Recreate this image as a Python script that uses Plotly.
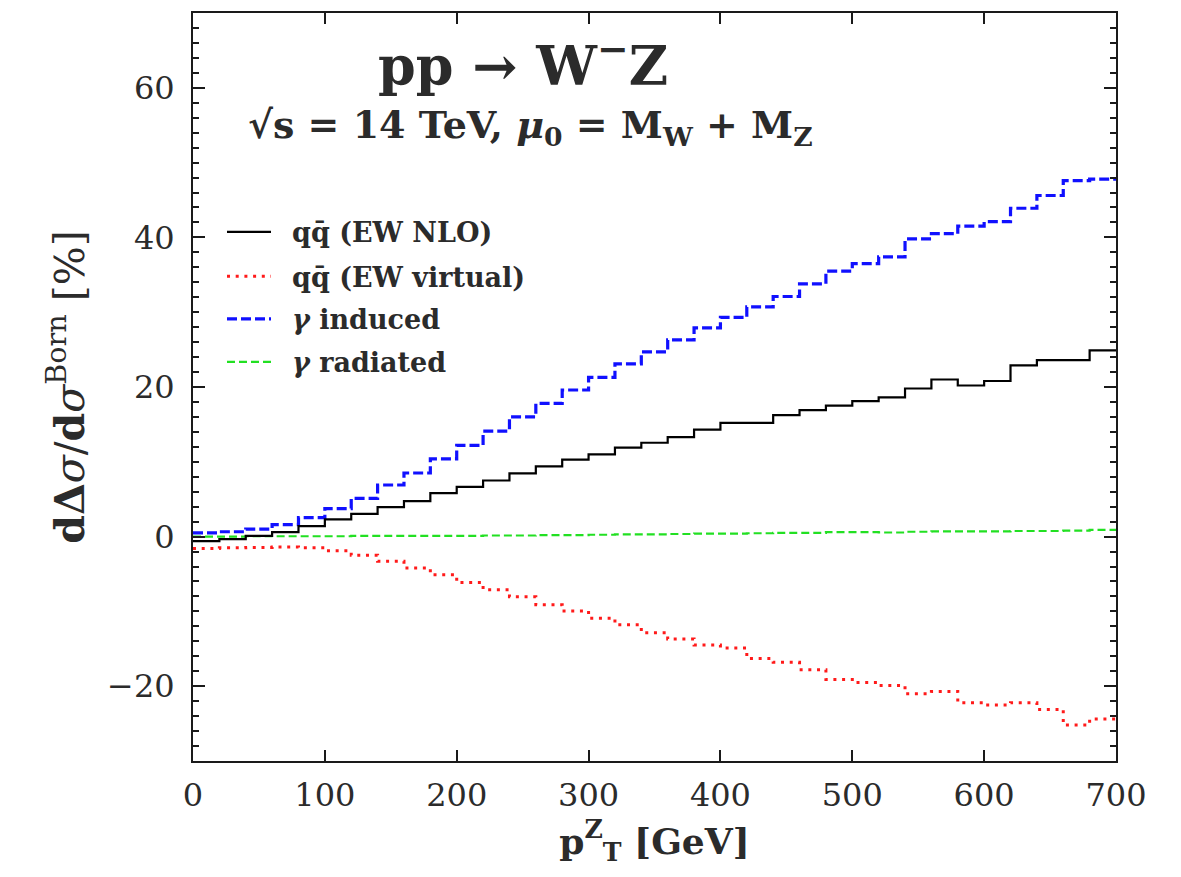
import plotly.graph_objects as go

# bin edges of pT^Z [GeV]
pt_edges = [0, 20, 40, 60, 80, 100, 120, 140, 160, 180, 200, 220, 240, 260, 280, 300,
            320, 340, 360, 380, 400, 420, 440, 460, 480, 500, 520, 540, 560, 580, 600,
            620, 640, 660, 680, 700]

# relative corrections per bin [%]
ew_nlo = [-0.6, -0.35, 0.1, 0.6, 1.4, 2.3, 3.05, 3.95, 4.75, 5.8, 6.65, 7.5, 8.45, 9.4,
          10.3, 11.0, 11.9, 12.55, 13.3, 14.3, 15.2, 15.2, 16.25, 16.9, 17.5, 18.1, 18.6,
          19.8, 21.0, 20.2, 20.8, 22.9, 23.6, 23.6, 24.9]
ew_virtual = [-1.6, -1.5, -1.45, -1.4, -1.5, -1.9, -2.5, -3.3, -4.2, -5.1, -6.15, -7.1,
              -8.05, -9.1, -9.95, -10.9, -11.8, -12.85, -13.7, -14.5, -14.9, -16.3, -16.8,
              -17.8, -19.1, -19.5, -19.9, -21.0, -20.7, -22.2, -22.5, -22.2, -23.1, -25.2,
              -24.4]
gamma_induced = [0.5, 0.65, 1.0, 1.6, 2.55, 3.75, 5.1, 6.9, 8.5, 10.4, 12.2, 14.1, 16.0,
                 17.8, 19.6, 21.3, 23.1, 24.7, 26.3, 27.9, 29.3, 30.7, 32.1, 33.8, 35.5,
                 36.5, 37.4, 39.8, 40.5, 41.5, 42.1, 43.9, 45.6, 47.6, 47.8]
gamma_radiated = [0.0, 0.0, 0.05, 0.05, 0.05, 0.05, 0.1, 0.1, 0.1, 0.1, 0.1, 0.15, 0.15,
                  0.2, 0.2, 0.25, 0.3, 0.3, 0.35, 0.4, 0.4, 0.45, 0.5, 0.5, 0.6, 0.6, 0.55,
                  0.65, 0.7, 0.7, 0.7, 0.75, 0.75, 0.8, 0.9]

series_names = ["qq\u0304 (EW NLO)", "qq\u0304 (EW virtual)", "\u03b3 induced", "\u03b3 radiated"]
legend_labels = ["qq\u0304 (EW NLO)", "qq\u0304 (EW virtual)",
                 "<i>\u03b3</i> induced", "<i>\u03b3</i> radiated"]
x_ticks = [0, 100, 200, 300, 400, 500, 600, 700]

styles = [
    dict(color="#000000", width=2.2, dash="solid"),
    dict(color="#ff1a1a", width=3, dash="3px,5.7px"),
    dict(color="#1010ff", width=3.2, dash="10px,4px"),
    dict(color="#22e022", width=2.2, dash="8px,4px"),
]
all_series = [ew_nlo, ew_virtual, gamma_induced, gamma_radiated]

SERIF = "DejaVu Serif"
TXT = "#2b2b2b"

fig = go.Figure()
# draw in order so that black is on top of green near zero
for idx in [3, 1, 2, 0]:
    vals = all_series[idx]
    fig.add_trace(go.Scatter(
        x=pt_edges, y=vals + [vals[-1]], mode="lines", line_shape="hv",
        line=styles[idx], name=series_names[idx], showlegend=False,
        hoverinfo="skip"))

# plot-area geometry (pixels) used to place the hand-made legend and titles
plot_left, plot_right = 193.0, 1116.0
plot_top, plot_bot = 12.7, 760.7


def px_x(px):
    return (px - plot_left) / (plot_right - plot_left)


def px_y(py):
    return (plot_bot - py) / (plot_bot - plot_top)


# manual legend (samples + labels) in the upper-left corner
leg_y = [231.5, 276, 318.5, 361.5]
for i in range(4):
    fig.add_shape(type="line", xref="paper", yref="paper",
                  x0=px_x(227), x1=px_x(271), y0=px_y(leg_y[i]), y1=px_y(leg_y[i]),
                  line=styles[i], layer="above")
    fig.add_annotation(xref="paper", yref="paper", x=px_x(290), y=px_y(leg_y[i] + 1),
                       xanchor="left", yanchor="middle", showarrow=False,
                       text="<b>" + legend_labels[i] + "</b>",
                       font=dict(family=SERIF, size=27, color=TXT))

# title texts
fig.add_annotation(xref="paper", yref="paper", x=px_x(523), y=px_y(62),
                   xanchor="center", yanchor="middle", showarrow=False,
                   text="<b>pp \u2192 W<sup>\u2212</sup>Z</b>",
                   font=dict(family=SERIF, size=54, color=TXT))
fig.add_annotation(xref="paper", yref="paper", x=px_x(530), y=px_y(127),
                   xanchor="center", yanchor="middle", showarrow=False,
                   text="<b>\u221as = 14 TeV, <i>\u03bc</i><sub>0</sub> = M<sub>W</sub> + M<sub>Z</sub></b>",
                   font=dict(family=SERIF, size=38, color=TXT))

axis_common = dict(showline=True, linecolor="#1a1a1a", linewidth=2, mirror="ticks",
                   ticks="inside", tickcolor="#1a1a1a", tickwidth=2, showgrid=False,
                   zeroline=False, tickfont=dict(family=SERIF, size=32, color=TXT))

fig.update_xaxes(range=[0, 700], tickmode="array", tickvals=x_ticks, ticklen=11,
                 ticklabelstandoff=5,
                 title=dict(text="<b>p<sup>Z</sup><sub>T</sub> [GeV]</b>",
                            font=dict(family=SERIF, size=36, color=TXT), standoff=8),
                 **axis_common)
fig.update_yaxes(range=[-30, 70], tick0=0, dtick=20, ticklen=12,
                 ticklabelstandoff=10,
                 minor=dict(dtick=2, ticklen=6, tickcolor="#1a1a1a", tickwidth=1.5,
                            ticks="inside", showgrid=False),
                 title=dict(text="<b>d\u0394</b><i>\u03c3</i>/<b>d</b><i>\u03c3</i><sup>Born</sup> [%]",
                            font=dict(family=SERIF, size=41, color=TXT), standoff=10),
                 **axis_common)

fig.update_layout(width=1181, height=877, plot_bgcolor="white", paper_bgcolor="white",
                  margin=dict(l=193, r=65, t=13, b=116), showlegend=False)

fig.write_html("out.html")
